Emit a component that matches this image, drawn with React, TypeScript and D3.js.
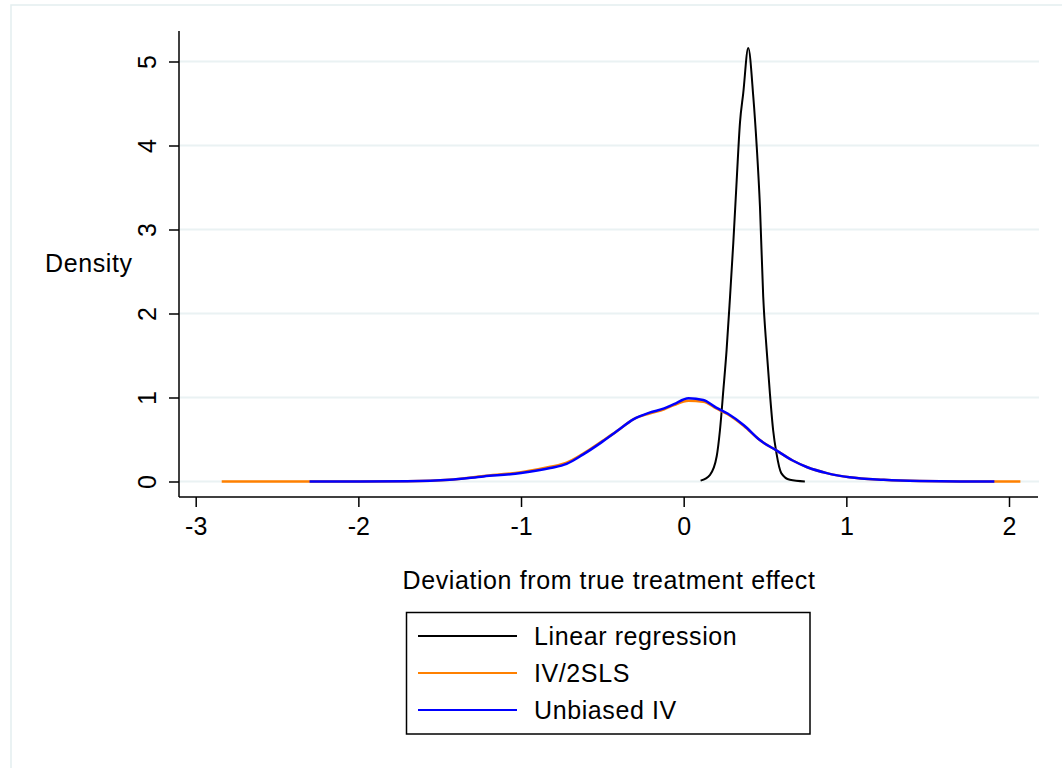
import React, { useRef, useEffect } from 'react';
import * as d3 from 'd3';

// values
const xTicks = [-3, -2, -1, 0, 1, 2];
const yTicks = [0, 1, 2, 3, 4, 5];

const linX = [0.104, 0.162, 0.203, 0.223, 0.244, 0.264, 0.285, 0.305, 0.326, 0.346, 0.366, 0.397, 0.428, 0.449, 0.469, 0.489, 0.51, 0.53, 0.55, 0.57, 0.6, 0.653, 0.745];
const linY = [0.01, 0.08, 0.3, 0.61, 1.09, 1.57, 2.2, 2.84, 3.59, 4.27, 4.62, 5.16, 4.58, 3.99, 3.27, 2.2, 1.57, 1.05, 0.61, 0.34, 0.1, 0.02, 0];

const ivX = [-2.84, -2.5, -2.3, -2.0, -1.7, -1.44, -1.23, -1.0, -0.82, -0.72, -0.62, -0.51, -0.41, -0.31, -0.21, -0.12, -0.06, 0.03, 0.12, 0.2, 0.27, 0.37, 0.47, 0.57, 0.67, 0.76, 0.88, 1.02, 1.23, 1.45, 1.7, 1.91, 2.07];
const ivY = [0, 0, 0, 0, 0.004, 0.022, 0.065, 0.11, 0.175, 0.225, 0.33, 0.47, 0.6, 0.74, 0.81, 0.86, 0.91, 0.96, 0.95, 0.87, 0.8, 0.66, 0.49, 0.37, 0.25, 0.17, 0.1, 0.05, 0.02, 0.005, 0, 0, 0];

const ubX = [-2.3, -2.0, -1.7, -1.44, -1.23, -1.0, -0.82, -0.72, -0.62, -0.51, -0.41, -0.31, -0.21, -0.12, -0.06, 0.03, 0.12, 0.2, 0.27, 0.37, 0.47, 0.57, 0.67, 0.76, 0.88, 1.02, 1.23, 1.45, 1.7, 1.91];
const ubY = [0, 0, 0.003, 0.02, 0.06, 0.1, 0.16, 0.21, 0.32, 0.46, 0.6, 0.74, 0.82, 0.87, 0.92, 0.99, 0.97, 0.88, 0.81, 0.67, 0.49, 0.37, 0.25, 0.17, 0.1, 0.05, 0.02, 0.005, 0, 0];

const seriesNames = ['Linear regression', 'IV/2SLS', 'Unbiased IV'];
const seriesColors = ['#000000', '#ff8000', '#0000ff'];

const App = () => {
  const svgRef = useRef(null);

  useEffect(() => {
    const w = 1062;
    const h = 768;
    const svg = d3.select(svgRef.current);
    svg.selectAll('*').remove();
    const font = 'Arial, "Liberation Sans", sans-serif';
    const fs = 25;
    const ls = '0.6px';

    // outer frame
    svg.append('rect')
      .attr('x', 11).attr('y', 5)
      .attr('width', 1100).attr('height', 800)
      .attr('fill', 'white')
      .attr('stroke', '#e4eeef')
      .attr('stroke-width', 1.5);

    const xScale = d3.scaleLinear().domain([-3, 2]).range([195.7, 1009]);
    const yScale = d3.scaleLinear().domain([0, 5]).range([481.5, 61.5]);

    // grid lines
    svg.append('g')
      .selectAll('line')
      .data(yTicks)
      .join('line')
      .attr('x1', 180).attr('x2', 1039)
      .attr('y1', d => yScale(d)).attr('y2', d => yScale(d))
      .attr('stroke', '#eaf2f3')
      .attr('stroke-width', 2);

    // y axis
    const yAxis = d3.axisLeft(yScale).tickValues(yTicks).tickSize(10).tickSizeOuter(0)
      .tickFormat(d3.format('d'));
    const gy = svg.append('g').attr('transform', 'translate(179,0)').call(yAxis);
    gy.select('.domain').attr('d', 'M0,31V497').attr('stroke-width', 1.5);
    gy.selectAll('.tick line').attr('stroke-width', 1.5);
    gy.selectAll('.tick text')
      .attr('font-family', font)
      .attr('font-size', fs)
      .attr('fill', '#000')
      .attr('text-anchor', 'middle')
      .attr('dy', null)
      .attr('x', null)
      .attr('transform', 'translate(-23,0) rotate(-90)');

    // x axis
    const xAxis = d3.axisBottom(xScale).tickValues(xTicks).tickSize(10).tickSizeOuter(0).tickPadding(10)
      .tickFormat(d3.format('d'));
    const gx = svg.append('g').attr('transform', 'translate(0,497)').call(xAxis);
    gx.select('.domain').attr('d', 'M179,0H1038').attr('stroke-width', 1.5);
    gx.selectAll('.tick line').attr('stroke-width', 1.5);
    gx.selectAll('.tick text')
      .attr('font-family', font)
      .attr('font-size', fs)
      .attr('fill', '#000')
      .text(d => String(d).replace('\u2212', '-'));

    // axis titles
    svg.append('text')
      .attr('x', 45).attr('y', 272)
      .attr('font-family', font).attr('font-size', fs).attr('letter-spacing', ls)
      .text('Density');
    svg.append('text')
      .attr('x', 609).attr('y', 589)
      .attr('text-anchor', 'middle')
      .attr('font-family', font).attr('font-size', fs).attr('letter-spacing', ls)
      .text('Deviation from true treatment effect');

    // curves
    const line = d3.line<[number, number]>()
      .x(d => xScale(d[0]))
      .y(d => yScale(d[1]))
      .curve(d3.curveMonotoneX);

    const series = [
      { x: linX, y: linY, color: seriesColors[0], sw: 2 },
      { x: ivX, y: ivY, color: seriesColors[1], sw: 2.5 },
      { x: ubX, y: ubY, color: seriesColors[2], sw: 2.5 },
    ];
    series.forEach(s => {
      svg.append('path')
        .datum(s.x.map((v, i) => [v, s.y[i]] as [number, number]))
        .attr('d', line)
        .attr('fill', 'none')
        .attr('stroke', s.color)
        .attr('stroke-width', s.sw);
    });

    // legend
    const lg = svg.append('g');
    lg.append('rect')
      .attr('x', 406.5).attr('y', 612.5)
      .attr('width', 403.5).attr('height', 121.5)
      .attr('fill', 'white')
      .attr('stroke', '#000')
      .attr('stroke-width', 1.5);
    const rows = [636, 673, 710];
    seriesNames.forEach((name, i) => {
      lg.append('line')
        .attr('x1', 418).attr('x2', 517)
        .attr('y1', rows[i]).attr('y2', rows[i])
        .attr('stroke', seriesColors[i])
        .attr('stroke-width', 2);
      lg.append('text')
        .attr('x', 534).attr('y', rows[i] + 9)
        .attr('font-family', font).attr('font-size', fs).attr('letter-spacing', ls)
        .text(name);
    });

    svg.attr('width', w).attr('height', h);
  }, []);

  return (
    <svg ref={svgRef} width={1062} height={768}
      style={{ position: 'absolute', left: 0, top: 0, background: 'white' }}></svg>
  );
};

export default App;
